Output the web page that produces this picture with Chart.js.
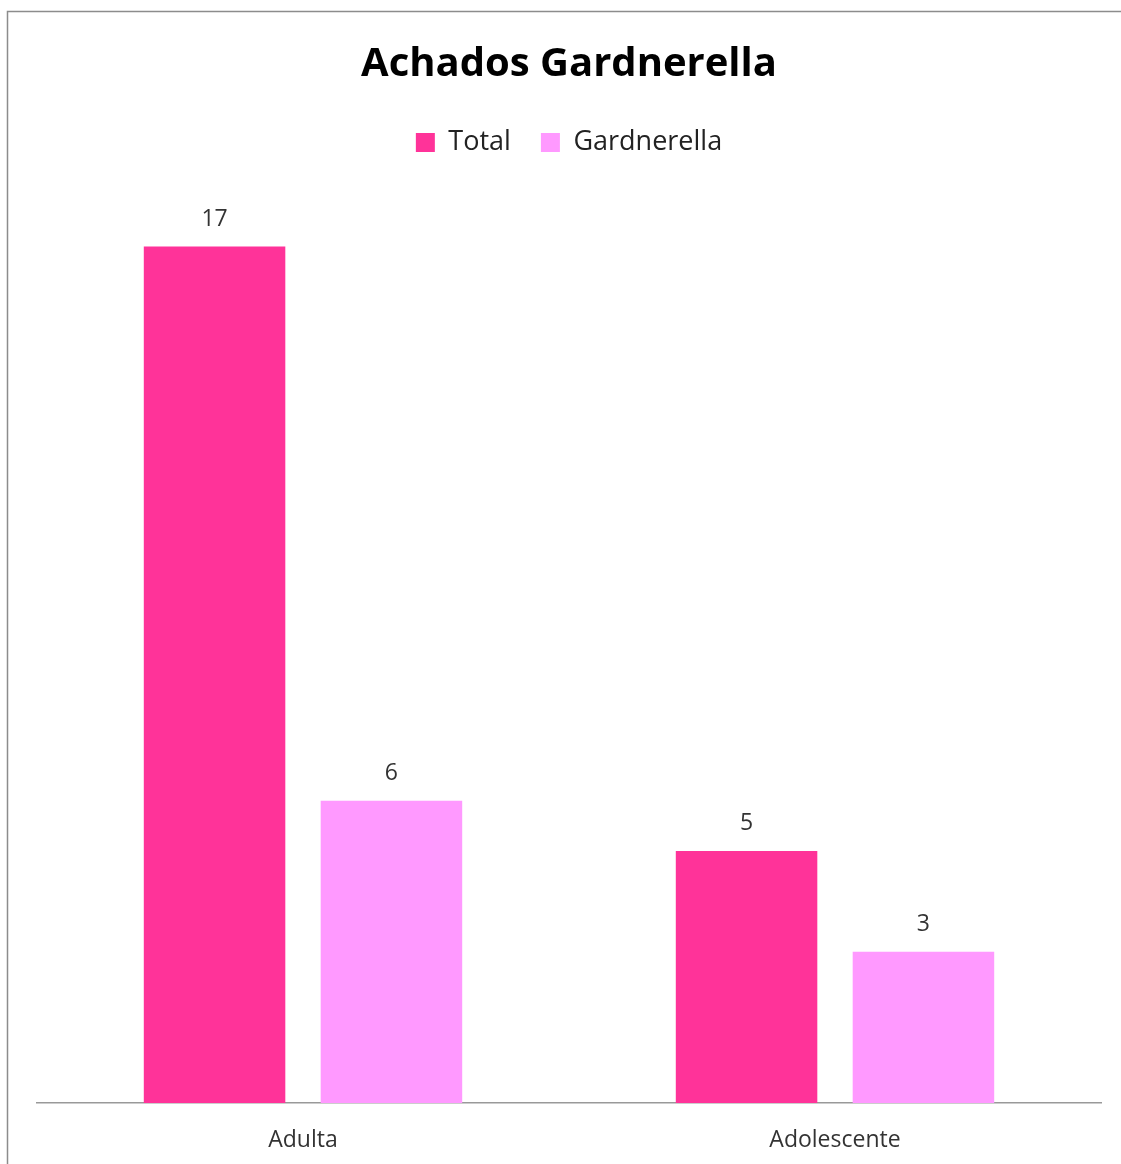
<!DOCTYPE html>
<html>
<head>
<meta charset="utf-8">
<script src="https://cdn.jsdelivr.net/npm/chart.js@4"></script>
<style>
  html, body { margin: 0; padding: 0; background: #fff; }
  #wrap { position: relative; width: 1121px; height: 1164px; }
</style>
</head>
<body>
<div id="wrap"><canvas id="grafica"></canvas></div>
<script>
"use strict";
const categorias = ["Adulta", "Adolescente"];
const serieTotal = [17, 5];
const serieGardnerella = [6, 3];
const nombresSeries = ["Total", "Gardnerella"];

const colorTotal = "#FF3399";
const colorGard  = "#FF99FF";
const fuente = "'Open Sans', 'DejaVu Sans', sans-serif";

// marco gris alrededor de todo el gráfico
const marco = {
    id: "marco",
    beforeDraw(chart) {
        const c = chart.ctx;
        c.save();
        c.fillStyle = "#fff";
        c.fillRect(0, 0, chart.width, chart.height);
        c.strokeStyle = "#8c8c8c";
        c.lineWidth = 1.5;
        c.strokeRect(7.5, 11.5, chart.width + 10, chart.height + 10);
        c.restore();
    }
};

// valores encima de cada barra
const etiquetas = {
    id: "etiquetas",
    afterDatasetsDraw(chart) {
        const c = chart.ctx;
        c.save();
        c.font = "23px " + fuente;
        c.fillStyle = "#333";
        c.textAlign = "center";
        c.textBaseline = "bottom";
        chart.data.datasets.forEach((ds, i) => {
            chart.getDatasetMeta(i).data.forEach((bar, j) => {
                c.fillText(ds.data[j], bar.x, bar.y - 16);
            });
        });
        c.restore();
    }
};

new Chart(document.getElementById("grafica"), {
    type: "bar",
    data: {
        labels: categorias,
        datasets: [
            { label: nombresSeries[0], data: serieTotal, backgroundColor: colorTotal },
            { label: nombresSeries[1], data: serieGardnerella, backgroundColor: colorGard }
        ]
    },
    options: {
        responsive: true,
        maintainAspectRatio: false,
        animation: false,
        datasets: { bar: { categoryPercentage: 0.665, barPercentage: 0.80 } },
        layout: { padding: { left: 37, right: 20, bottom: 13, top: 0 } },
        plugins: {
            title: {
                display: true,
                text: "Achados Gardnerella",
                color: "#000",
                font: { family: fuente, size: 40, weight: "bold" },
                padding: { top: 41, bottom: 10 }
            },
            legend: {
                display: true,
                labels: {
                    color: "#222",
                    font: { family: fuente, size: 27 },
                    boxWidth: 19,
                    boxHeight: 19,
                    padding: 30
                }
            },
            tooltip: { enabled: false }
        },
        scales: {
            x: {
                grid: { display: false, drawTicks: false },
                border: { display: true, color: "#999", width: 1.5 },
                ticks: { color: "#333", font: { family: fuente, size: 23 }, padding: 24 },
                afterFit(scale) { scale.height = 48; }
            },
            y: {
                display: false,
                beginAtZero: true,
                min: 0,
                max: 18.6
            }
        }
    },
    plugins: [marco, etiquetas]
});
</script>
</body>
</html>
